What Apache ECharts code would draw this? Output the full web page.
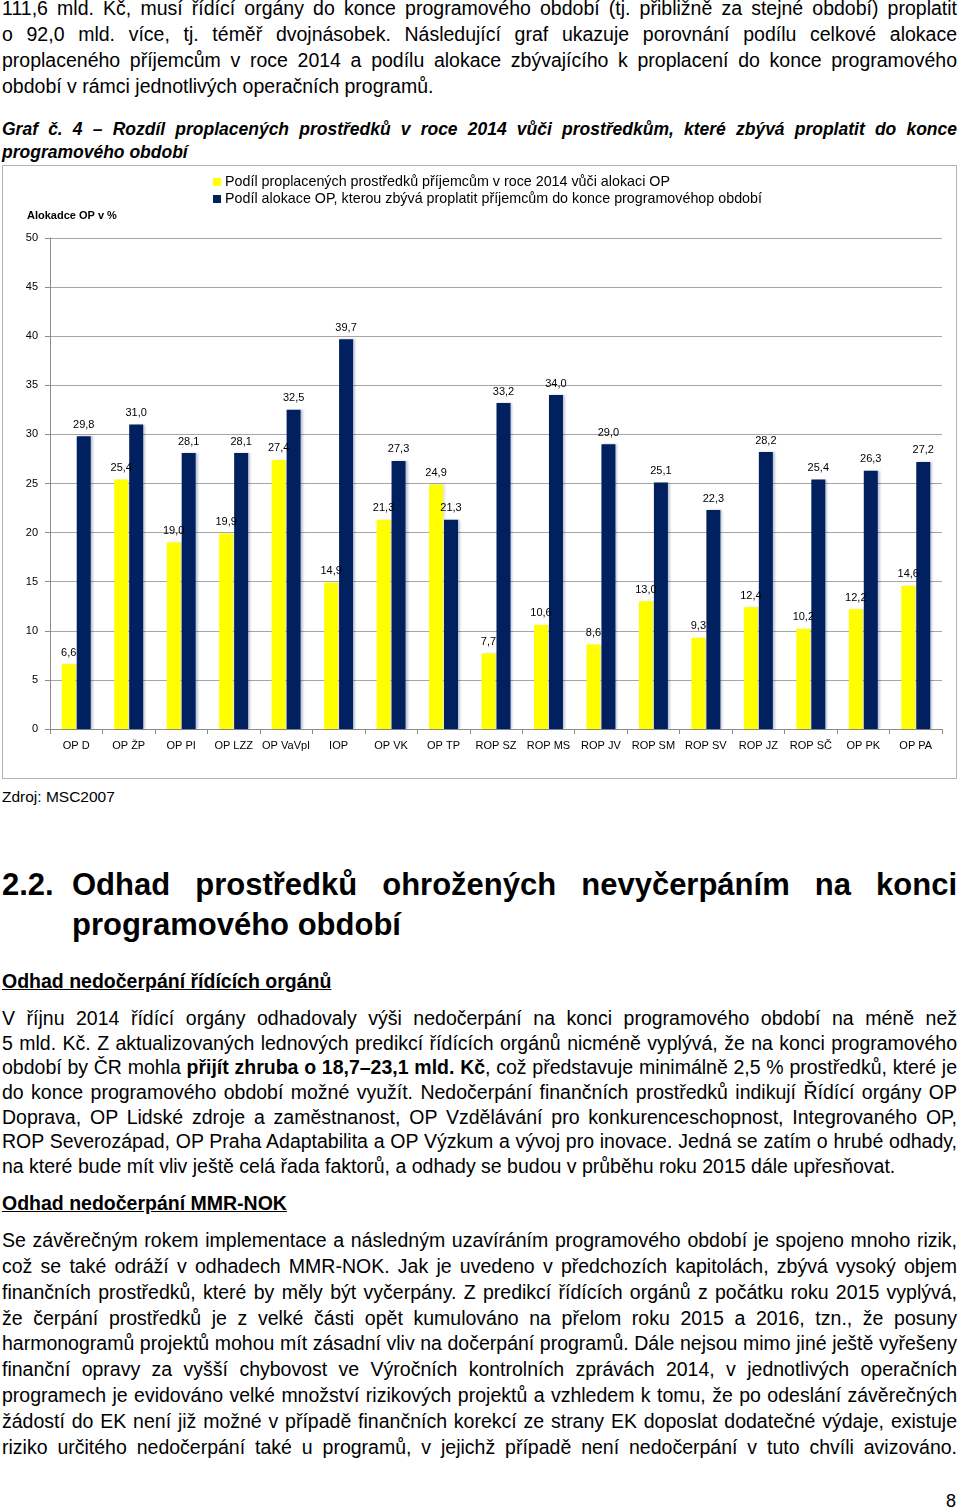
<!DOCTYPE html>
<html lang="cs">
<head>
<meta charset="utf-8">
<script src="https://cdn.jsdelivr.net/npm/echarts@6/dist/echarts.min.js"></script>
<style>
  html, body { margin:0; padding:0; background:#fff; }
  body { width:960px; height:1511px; position:relative; overflow:hidden;
         font-family:"Liberation Sans", Arial, sans-serif; color:#000; }
  .ln { position:absolute; left:2px; width:955px; font-size:19.5px; line-height:22px;
        text-align:justify; text-align-last:justify; }
  .ln.last { text-align-last:left; }
  .cap { font-weight:bold; font-style:italic; font-size:17.5px; }
  .h2 { position:absolute; font-weight:bold; font-size:31px; line-height:36px; }
  .sub { position:absolute; left:2px; font-weight:bold; font-size:19.5px; line-height:22px; text-decoration:underline; }
  #box { position:absolute; left:2px; top:165px; width:953px; height:612px; border:1px solid #b4b4b4; }
  #chart { position:absolute; left:0; top:0; width:953px; height:612px; }
</style>
</head>
<body>
<div class="ln" style="top:-3px">111,6 mld. Kč, musí řídící orgány do konce programového období (tj. přibližně za stejné období) proplatit</div>
<div class="ln" style="top:23px">o 92,0 mld. více, tj. téměř dvojnásobek. Následující graf ukazuje porovnání podílu celkové alokace</div>
<div class="ln" style="top:49px">proplaceného příjemcům v roce 2014 a podílu alokace zbývajícího k proplacení do konce programového</div>
<div class="ln last" style="top:75px">období v rámci jednotlivých operačních programů.</div>

<div class="ln cap" style="top:118px">Graf č. 4 – Rozdíl proplacených prostředků v roce 2014 vůči prostředkům, které zbývá proplatit do konce</div>
<div class="ln cap last" style="top:141px">programového období</div>

<div id="box"><div id="chart"></div></div>

<div style="position:absolute; left:2px; top:787px; font-size:15.5px; line-height:20px;">Zdroj: MSC2007</div>

<div class="h2" style="left:2px; top:867px;">2.2.</div>
<div class="h2" style="left:72px; width:885px; top:867px; text-align:justify; text-align-last:justify;">Odhad prostředků ohrožených nevyčerpáním na konci</div>
<div class="h2" style="left:72px; top:907px;">programového období</div>

<div class="sub" style="top:970px">Odhad nedočerpání řídících orgánů</div>

<div class="ln" style="top:1007px">V říjnu 2014 řídící orgány odhadovaly výši nedočerpání na konci programového období na méně než</div>
<div class="ln" style="top:1032px">5 mld. Kč. Z aktualizovaných lednových predikcí řídících orgánů nicméně vyplývá, že na konci programového</div>
<div class="ln" style="top:1056px">období by ČR mohla <b>přijít zhruba o 18,7–23,1 mld. Kč</b>, což představuje minimálně 2,5 % prostředků, které je</div>
<div class="ln" style="top:1081px">do konce programového období možné využít. Nedočerpání finančních prostředků indikují Řídící orgány OP</div>
<div class="ln" style="top:1106px">Doprava, OP Lidské zdroje a zaměstnanost, OP Vzdělávání pro konkurenceschopnost, Integrovaného OP,</div>
<div class="ln" style="top:1130px">ROP Severozápad, OP Praha Adaptabilita a OP Výzkum a vývoj pro inovace. Jedná se zatím o hrubé odhady,</div>
<div class="ln last" style="top:1155px">na které bude mít vliv ještě celá řada faktorů, a odhady se budou v průběhu roku 2015 dále upřesňovat.</div>

<div class="sub" style="top:1192px">Odhad nedočerpání MMR-NOK</div>

<div class="ln" style="top:1229px">Se závěrečným rokem implementace a následným uzavíráním programového období je spojeno mnoho rizik,</div>
<div class="ln" style="top:1255px">což se také odráží v odhadech MMR-NOK. Jak je uvedeno v předchozích kapitolách, zbývá vysoký objem</div>
<div class="ln" style="top:1281px">finančních prostředků, které by měly být vyčerpány. Z predikcí řídících orgánů z počátku roku 2015 vyplývá,</div>
<div class="ln" style="top:1307px">že čerpání prostředků je z velké části opět kumulováno na přelom roku 2015 a 2016, tzn., že posuny</div>
<div class="ln" style="top:1332px">harmonogramů projektů mohou mít zásadní vliv na dočerpání programů. Dále nejsou mimo jiné ještě vyřešeny</div>
<div class="ln" style="top:1358px">finanční opravy za vyšší chybovost ve Výročních kontrolních zprávách 2014, v jednotlivých operačních</div>
<div class="ln" style="top:1384px">programech je evidováno velké množství rizikových projektů a vzhledem k tomu, že po odeslání závěrečných</div>
<div class="ln" style="top:1410px">žádostí do EK není již možné v případě finančních korekcí ze strany EK doposlat dodatečné výdaje, existuje</div>
<div class="ln" style="top:1436px">riziko určitého nedočerpání také u programů, v jejichž případě není nedočerpání v tuto chvíli avizováno.</div>

<div style="position:absolute; right:4px; top:1490px; font-size:18px; line-height:22px;">8</div>

<script>
// shrink any text line that would not fit on one line
document.querySelectorAll('.ln').forEach(el => {
  let fs = parseFloat(getComputedStyle(el).fontSize);
  let guard = 0;
  while (el.getBoundingClientRect().height > 30 && guard < 40) {
    fs -= 0.25; el.style.fontSize = fs + 'px'; guard++;
  }
});

const categories = ["OP D","OP ŽP","OP PI","OP LZZ","OP VaVpI","IOP","OP VK","OP TP","ROP SZ","ROP MS","ROP JV","ROP SM","ROP SV","ROP JZ","ROP SČ","OP PK","OP PA"];
const paidShare = [6.6,25.4,19.0,19.9,27.4,14.9,21.3,24.9,7.7,10.6,8.6,13.0,9.3,12.4,10.2,12.2,14.6];
const remainingShare = [29.8,31.0,28.1,28.1,32.5,39.7,27.3,21.3,33.2,34.0,29.0,25.1,22.3,28.2,25.4,26.3,27.2];
const seriesNames = ["Podíl proplacených prostředků příjemcům v roce 2014 vůči alokaci OP",
                     "Podíl alokace OP, kterou zbývá proplatit příjemcům do konce programovéhop období"];
const yAxisTitle = "Alokadce OP v %";

const fmt = p => p.value.toFixed(1).replace('.', ',');
const FONT = '"Liberation Sans", Arial, sans-serif';
const chart = echarts.init(document.getElementById('chart'), null, {renderer:'canvas'});
chart.setOption({
  animation: false,
  textStyle: { fontFamily: FONT },
  grid: { left: 47, top: 72, width: 892, height: 491, containLabel: false },
  legend: {
    orient: 'vertical', left: 205, top: 4, itemWidth: 8, itemHeight: 8, itemGap: 3,
    icon: 'rect',
    textStyle: { fontSize: 14.3, color: '#000', fontFamily: FONT, padding:[0,0,0,-1] },
    data: seriesNames
  },
  graphic: [{ type: 'text', left: 24, top: 44,
    style: { text: yAxisTitle, fontSize: 11, fontWeight: 'bold', fill: '#000', fontFamily: FONT } }],
  xAxis: {
    type: 'category', data: categories,
    axisLine: { lineStyle: { color: '#8c8c8c' } },
    axisTick: { show: true, length: 5, lineStyle: { color: '#8c8c8c' } },
    axisLabel: { color: '#000', fontSize: 11, margin: 11, interval: 0, fontFamily: FONT }
  },
  yAxis: {
    type: 'value', min: 0, max: 50, interval: 5,
    axisLine: { show: true, lineStyle: { color: '#8c8c8c' } },
    axisTick: { show: true, length: 5, lineStyle: { color: '#8c8c8c' } },
    axisLabel: { color: '#000', fontSize: 11, margin: 12, fontFamily: FONT },
    splitLine: { lineStyle: { color: '#a6a6a6' } }
  },
  series: [
    { name: seriesNames[0], type: 'bar', data: paidShare, barWidth: 14, barGap: '7%',
      itemStyle: { color: '#ffff00', shadowColor: 'rgba(0,0,0,0.12)', shadowOffsetX: 2, shadowBlur: 2 },
      label: { show: true, position: 'top', distance: 6, fontSize: 11, color: '#000', formatter: fmt, fontFamily: FONT } },
    { name: seriesNames[1], type: 'bar', data: remainingShare, barWidth: 14,
      itemStyle: { color: '#002060', shadowColor: 'rgba(0,32,96,0.25)', shadowOffsetX: 2, shadowBlur: 2 },
      label: { show: true, position: 'top', distance: 6, fontSize: 11, color: '#000', formatter: fmt, fontFamily: FONT } }
  ]
});
</script>
</body>
</html>
